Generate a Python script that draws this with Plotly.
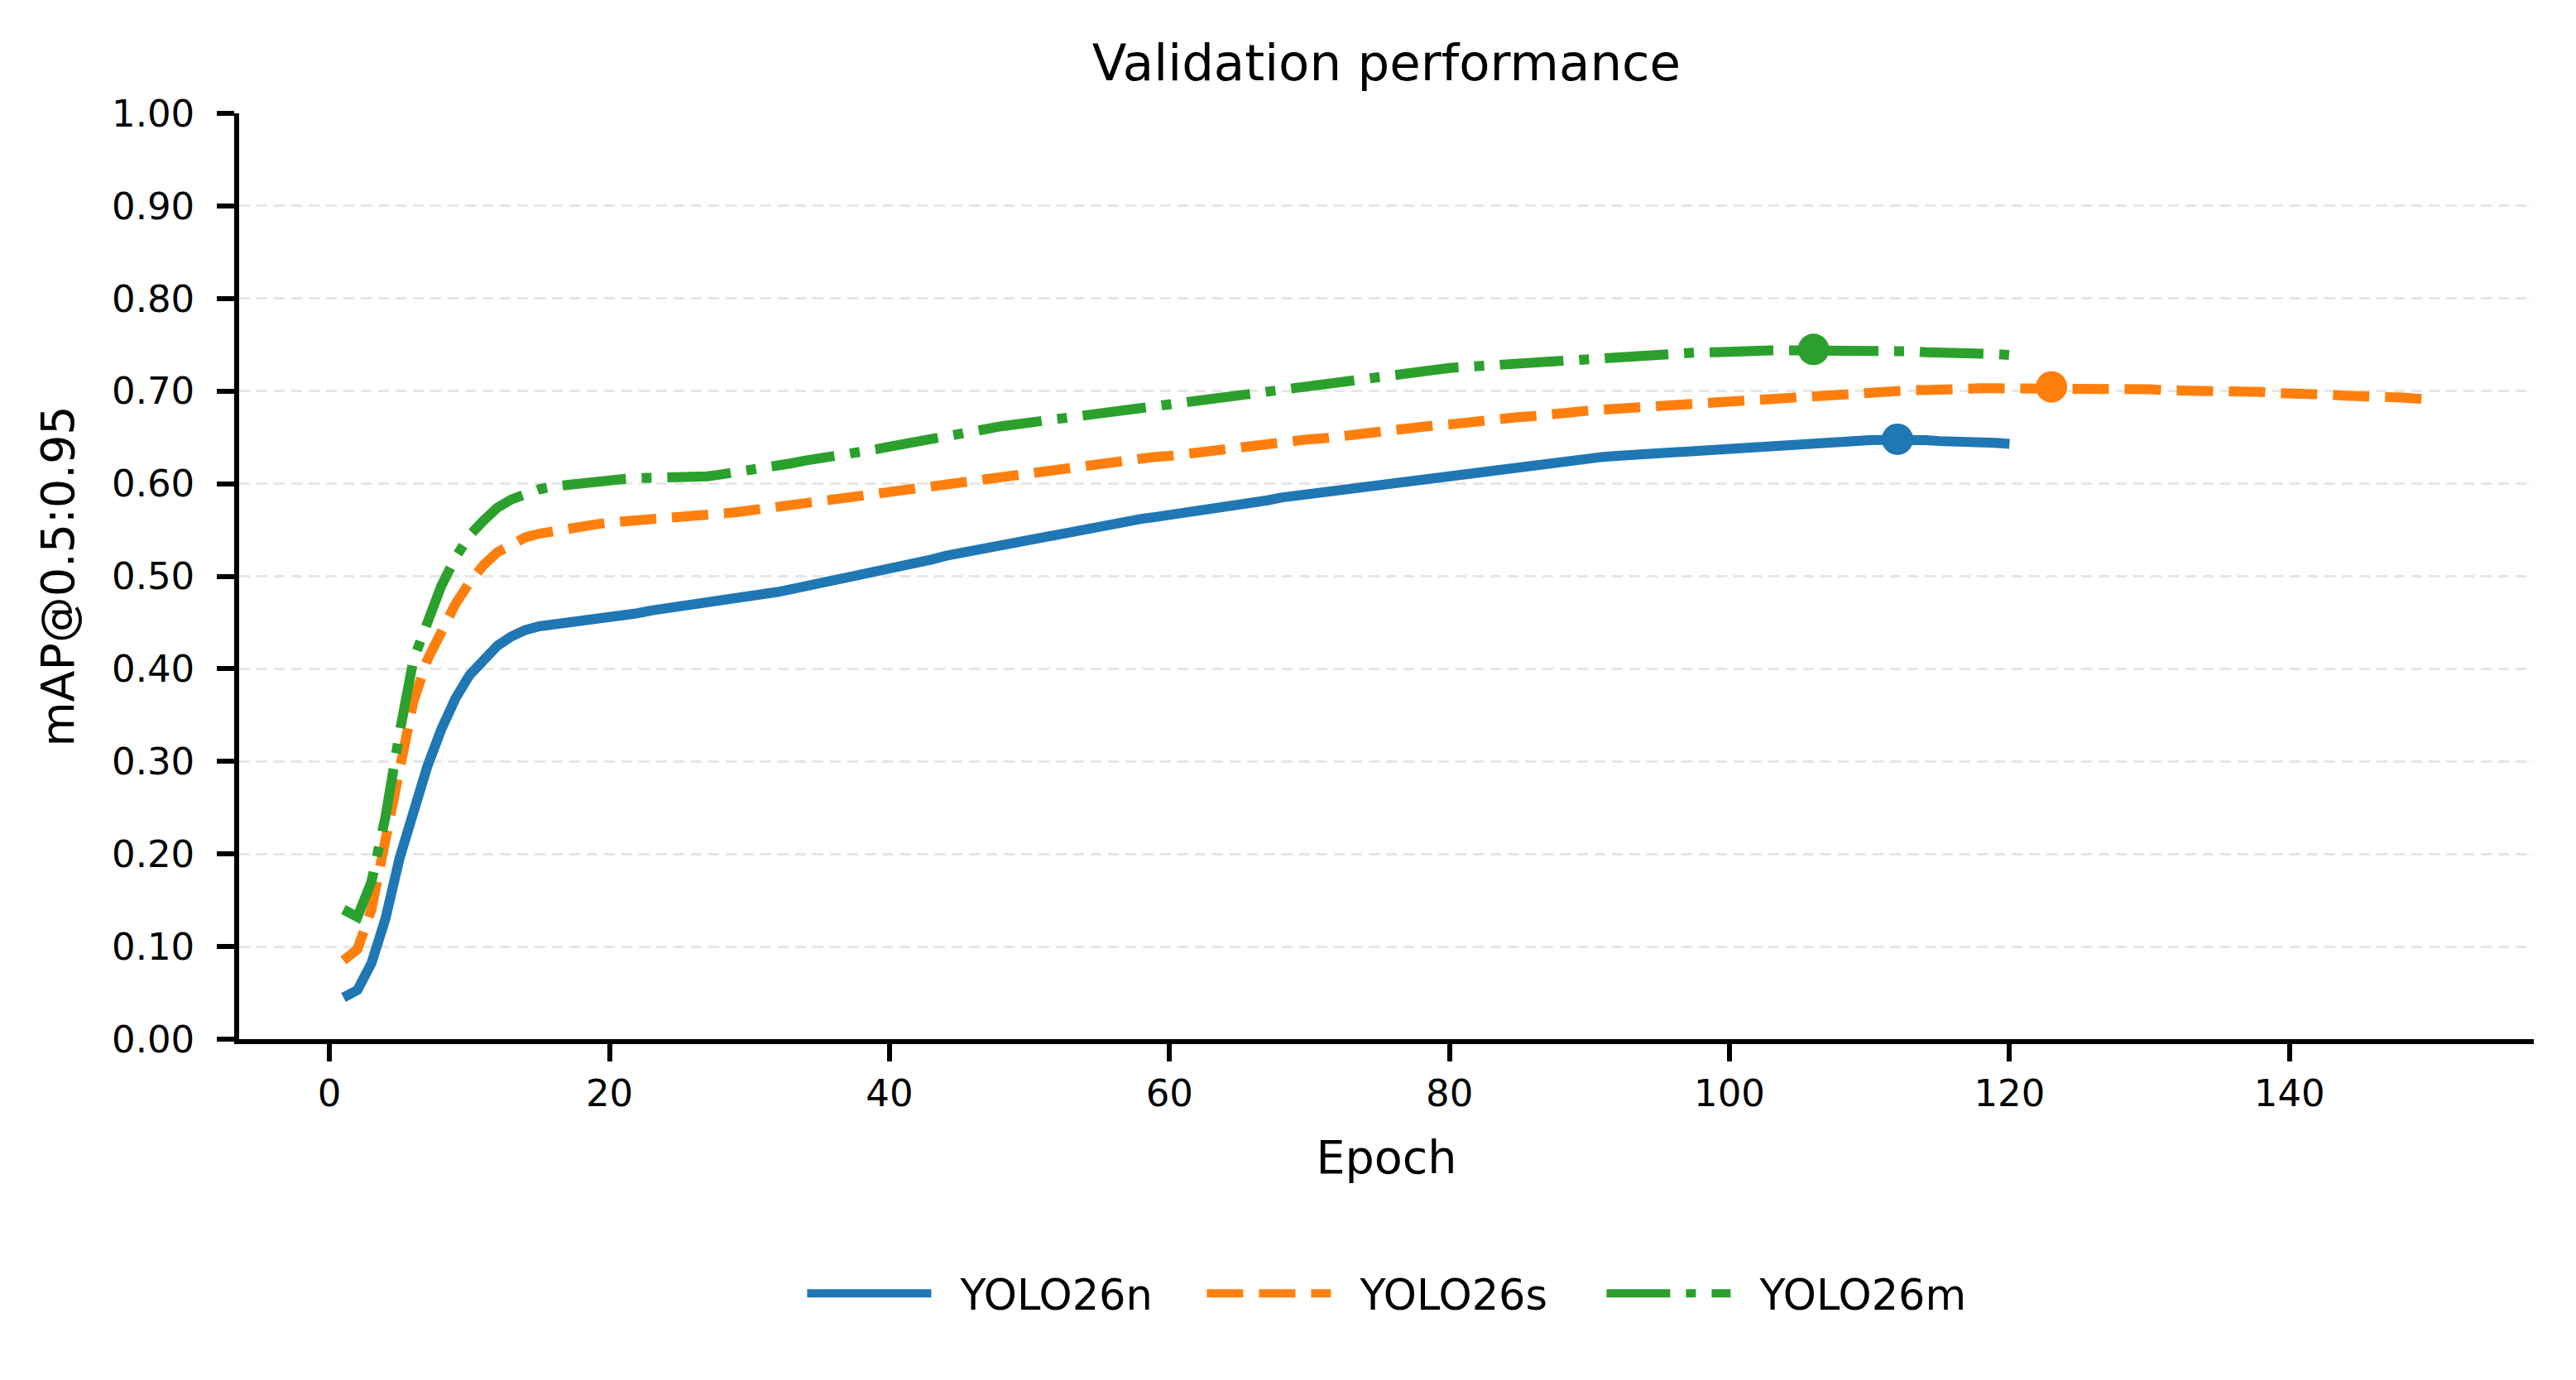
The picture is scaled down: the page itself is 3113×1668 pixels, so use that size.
import plotly.graph_objects as go

# ---------------- data ----------------
epochs_n = list(range(1, 121))
map_n = [
    0.045, 0.053, 0.082, 0.130, 0.195, 0.248, 0.295, 0.335, 0.368, 0.393,
    0.411, 0.425, 0.435, 0.442, 0.446, 0.448, 0.449, 0.450, 0.452, 0.454,
    0.457, 0.460, 0.463, 0.465, 0.467, 0.469, 0.471, 0.473, 0.476, 0.478,
    0.480, 0.483, 0.486, 0.489, 0.492, 0.495, 0.498, 0.501, 0.504, 0.507,
    0.511, 0.515, 0.518, 0.522, 0.525, 0.528, 0.531, 0.534, 0.537, 0.540,
    0.543, 0.546, 0.548, 0.551, 0.553, 0.556, 0.559, 0.562, 0.564, 0.566,
    0.568, 0.570, 0.573, 0.575, 0.577, 0.580, 0.582, 0.585, 0.587, 0.589,
    0.591, 0.593, 0.595, 0.597, 0.599, 0.601, 0.603, 0.605, 0.607, 0.609,
    0.611, 0.613, 0.615, 0.617, 0.619, 0.621, 0.623, 0.624, 0.626, 0.627,
    0.629, 0.630, 0.631, 0.632, 0.634, 0.635, 0.636, 0.637, 0.638, 0.639,
    0.640, 0.641, 0.642, 0.643, 0.644, 0.645, 0.645, 0.646, 0.6465, 0.647,
    0.6472, 0.648, 0.6475, 0.647, 0.646, 0.646, 0.645, 0.644, 0.644, 0.643,
]

epochs_s = list(range(1, 151))
map_s = [
    0.085, 0.097, 0.140, 0.215, 0.300, 0.365, 0.410, 0.443, 0.470, 0.493,
    0.512, 0.526, 0.535, 0.542, 0.546, 0.549, 0.552, 0.554, 0.556, 0.558,
    0.559, 0.560, 0.561, 0.562, 0.563, 0.564, 0.566, 0.567, 0.569, 0.571,
    0.573, 0.575, 0.577, 0.579, 0.582, 0.584, 0.587, 0.589, 0.591, 0.593,
    0.595, 0.597, 0.599, 0.601, 0.603, 0.605, 0.607, 0.609, 0.611, 0.613,
    0.615, 0.617, 0.619, 0.621, 0.622, 0.624, 0.625, 0.627, 0.629, 0.630,
    0.632, 0.633, 0.635, 0.636, 0.638, 0.640, 0.642, 0.644, 0.646, 0.648,
    0.649, 0.651, 0.653, 0.655, 0.656, 0.658, 0.660, 0.661, 0.663, 0.664,
    0.666, 0.667, 0.669, 0.670, 0.672, 0.673, 0.675, 0.676, 0.678, 0.679,
    0.680, 0.681, 0.682, 0.684, 0.685, 0.686, 0.687, 0.688, 0.689, 0.690,
    0.691, 0.692, 0.693, 0.694, 0.695, 0.696, 0.697, 0.698, 0.699, 0.699,
    0.700, 0.700, 0.701, 0.701, 0.702, 0.702, 0.702, 0.703, 0.703, 0.703,
    0.703, 0.7035, 0.7045, 0.7038, 0.703, 0.703, 0.703, 0.702, 0.702, 0.702,
    0.701, 0.701, 0.701, 0.700, 0.700, 0.700, 0.699, 0.699, 0.698, 0.698,
    0.697, 0.697, 0.696, 0.695, 0.695, 0.694, 0.693, 0.693, 0.692, 0.691,
]

epochs_m = list(range(1, 121))
map_m = [
    0.140, 0.132, 0.170, 0.240, 0.330, 0.410, 0.450, 0.490, 0.520, 0.544,
    0.560, 0.574, 0.583, 0.589, 0.594, 0.597, 0.599, 0.601, 0.603, 0.604,
    0.605, 0.606, 0.606, 0.606, 0.606, 0.607, 0.608, 0.610, 0.612, 0.614,
    0.617, 0.619, 0.622, 0.625, 0.627, 0.630, 0.632, 0.635, 0.637, 0.640,
    0.643, 0.646, 0.649, 0.652, 0.654, 0.657, 0.659, 0.662, 0.664, 0.666,
    0.669, 0.671, 0.673, 0.675, 0.677, 0.679, 0.681, 0.683, 0.685, 0.687,
    0.689, 0.691, 0.693, 0.695, 0.697, 0.699, 0.701, 0.703, 0.705, 0.707,
    0.709, 0.711, 0.713, 0.715, 0.717, 0.719, 0.720, 0.722, 0.723, 0.725,
    0.726, 0.727, 0.728, 0.730, 0.731, 0.732, 0.733, 0.734, 0.735, 0.736,
    0.737, 0.738, 0.739, 0.739, 0.740, 0.741, 0.741, 0.742, 0.742, 0.743,
    0.743, 0.743, 0.744, 0.744, 0.744, 0.745, 0.7445, 0.744, 0.744, 0.744,
    0.743, 0.743, 0.743, 0.742, 0.742, 0.741, 0.741, 0.740, 0.740, 0.739,
]

model_names = ["YOLO26n", "YOLO26s", "YOLO26m"]
series_x = [epochs_n, epochs_s, epochs_m]
series_y = [map_n, map_s, map_m]

y_ticks = [0.0, 0.1, 0.2, 0.3, 0.4, 0.5, 0.6, 0.7, 0.8, 0.9, 1.0]
x_ticks = [0, 20, 40, 60, 80, 100, 120, 140]

# ---------------- style ----------------
colors = ["#1f77b4", "#ff7f0e", "#2ca02c"]
dashes = ["solid", "44px,19px", "77px,19px,12px,19px"]
LW = 12
FONT = "DejaVu Sans"

fig = go.Figure()
for name, xs, ys, c, d in zip(model_names, series_x, series_y, colors, dashes):
    fig.add_trace(go.Scatter(
        x=xs, y=ys, mode="lines", name=name,
        line=dict(color=c, width=LW, dash=d),
    ))
for name, xs, ys, c in zip(model_names, series_x, series_y, colors):
    i = max(range(len(ys)), key=lambda k: ys[k])
    fig.add_trace(go.Scatter(
        x=[xs[i]], y=[ys[i]], mode="markers", showlegend=False,
        marker=dict(color=c, size=38, line=dict(width=0)),
        hoverinfo="skip",
    ))

xmin = min(min(x) for x in series_x)
xmax = max(max(x) for x in series_x)
pad = 0.05 * (xmax - xmin)

axis_common = dict(
    showline=True, linecolor="black", linewidth=5.5,
    ticks="outside", ticklen=21, tickwidth=5.5, tickcolor="black",
    tickfont=dict(family=FONT, size=45, color="black"),
    zeroline=False, mirror=False,
)

fig.update_layout(
    width=3113, height=1668,
    paper_bgcolor="white", plot_bgcolor="white",
    margin=dict(l=289, r=51, t=137, b=412, autoexpand=False),
    font=dict(family=FONT, color="black"),
    title=dict(text="Validation performance", x=0.5, xref="paper",
               xanchor="center", y=1 - 76 / 1668, yanchor="middle",
               font=dict(family=FONT, size=61, color="black")),
    xaxis=dict(range=[xmin - pad, xmax + pad], tickvals=x_ticks,
               showgrid=False,
               title=dict(text="Epoch", standoff=34,
                          font=dict(family=FONT, size=55.6, color="black")),
               **axis_common),
    yaxis=dict(range=[0, 1], tickvals=y_ticks, tickformat=".2f",
               showgrid=True, gridcolor="#e6e6e6", gridwidth=3,
               griddash="13px,8px", ticklabelstandoff=18,
               title=dict(text="mAP@0.5:0.95", standoff=30,
                          font=dict(family=FONT, size=55.6, color="black")),
               **axis_common),
    legend=dict(orientation="h", x=0.507, xanchor="center", y=-0.275,
                yanchor="middle", font=dict(family=FONT, size=51, color="black"),
                itemwidth=150, entrywidth=318, entrywidthmode="pixels",
                bgcolor="rgba(0,0,0,0)"),
)

post = """
document.body.style.margin = '0';
document.body.style.overflow = 'hidden';
document.querySelectorAll('.legendtext').forEach(function (t) {
    t.setAttribute('x', parseFloat(t.getAttribute('x')) + 30);
});
"""

fig.write_html("out.html", post_script=post, config={"displayModeBar": False})
